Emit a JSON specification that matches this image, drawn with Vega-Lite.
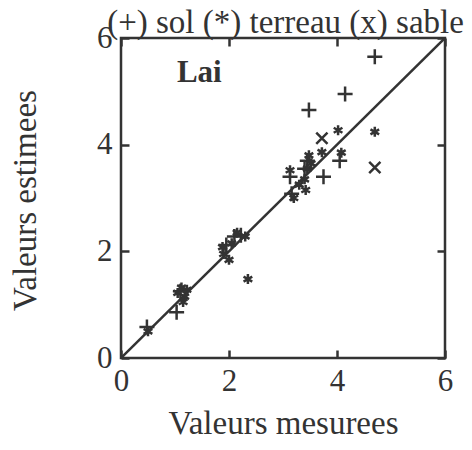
{
  "$schema": "https://vega.github.io/schema/vega-lite/v6.json",
  "width": 324,
  "height": 320,
  "autosize": {"type": "none"},
  "padding": {"left": 121, "top": 38, "right": 27, "bottom": 92},
  "background": "white",
  "config": {
    "view": {"stroke": "#333333", "strokeWidth": 2.5},
    "font": "Liberation Serif",
    "axis": {"domain": false, "grid": false, "tickColor": "#333333", "tickWidth": 2.5, "labelColor": "#333333", "titleColor": "#333333", "labelFont": "Liberation Serif", "titleFont": "Liberation Serif", "titleFontWeight": "normal", "titleLimit": 1000}
  },
  "datasets": {
    "diag": [{"x": 0, "y": 0}, {"x": 6, "y": 6}],
    "pts": [
      {"serie": "sol", "mesure": 0.48, "estime": 0.58},
      {"serie": "sol", "mesure": 1.03, "estime": 0.86},
      {"serie": "sol", "mesure": 1.10, "estime": 1.25},
      {"serie": "sol", "mesure": 1.95, "estime": 2.12},
      {"serie": "sol", "mesure": 2.10, "estime": 2.28},
      {"serie": "sol", "mesure": 2.22, "estime": 2.30},
      {"serie": "sol", "mesure": 3.13, "estime": 3.40},
      {"serie": "sol", "mesure": 3.16, "estime": 3.08},
      {"serie": "sol", "mesure": 3.40, "estime": 3.55},
      {"serie": "sol", "mesure": 3.45, "estime": 3.70},
      {"serie": "sol", "mesure": 3.75, "estime": 3.40},
      {"serie": "sol", "mesure": 4.05, "estime": 3.70},
      {"serie": "sol", "mesure": 3.48, "estime": 4.65},
      {"serie": "sol", "mesure": 4.15, "estime": 4.95},
      {"serie": "sol", "mesure": 4.70, "estime": 5.65},
      {"serie": "terreau", "mesure": 0.50, "estime": 0.50},
      {"serie": "terreau", "mesure": 1.05, "estime": 1.22},
      {"serie": "terreau", "mesure": 1.12, "estime": 1.32},
      {"serie": "terreau", "mesure": 1.18, "estime": 1.15},
      {"serie": "terreau", "mesure": 1.22, "estime": 1.28},
      {"serie": "terreau", "mesure": 1.15, "estime": 1.05},
      {"serie": "terreau", "mesure": 1.90, "estime": 1.95},
      {"serie": "terreau", "mesure": 1.88, "estime": 2.08},
      {"serie": "terreau", "mesure": 2.00, "estime": 1.84},
      {"serie": "terreau", "mesure": 2.05, "estime": 2.15},
      {"serie": "terreau", "mesure": 2.15, "estime": 2.35},
      {"serie": "terreau", "mesure": 2.30, "estime": 2.28},
      {"serie": "terreau", "mesure": 2.35, "estime": 1.48},
      {"serie": "terreau", "mesure": 3.13, "estime": 3.52},
      {"serie": "terreau", "mesure": 3.30, "estime": 3.25},
      {"serie": "terreau", "mesure": 3.40, "estime": 3.35},
      {"serie": "terreau", "mesure": 3.45, "estime": 3.55},
      {"serie": "terreau", "mesure": 3.48, "estime": 3.80},
      {"serie": "terreau", "mesure": 3.52, "estime": 3.65},
      {"serie": "terreau", "mesure": 3.42, "estime": 3.15},
      {"serie": "terreau", "mesure": 3.72, "estime": 3.86},
      {"serie": "terreau", "mesure": 4.08, "estime": 3.85},
      {"serie": "terreau", "mesure": 4.02, "estime": 4.27},
      {"serie": "terreau", "mesure": 4.70, "estime": 4.24},
      {"serie": "terreau", "mesure": 3.20, "estime": 3.00},
      {"serie": "sable", "mesure": 3.72, "estime": 4.12},
      {"serie": "sable", "mesure": 4.70, "estime": 3.57}
    ]
  },
  "resolve": {"axis": {"x": "independent", "y": "independent"}},
  "layer": [
    {
      "data": {"name": "diag"},
      "mark": {"type": "line", "color": "#333333", "strokeWidth": 2.5, "clip": true},
      "encoding": {
        "x": {"field": "x", "type": "quantitative", "scale": {"domain": [0, 6], "nice": false},
          "axis": {"orient": "bottom", "values": [0, 2, 4, 6], "tickSize": -8, "labelFontSize": 31, "labelPadding": 16, "labelFlush": false,
            "title": "Valeurs mesurees", "titleFontSize": 33, "titleX": 162, "titleY": 65, "titleBaseline": "middle", "titleAlign": "center"}},
        "y": {"field": "y", "type": "quantitative", "scale": {"domain": [0, 6], "nice": false},
          "axis": {"orient": "left", "values": [0, 2, 4, 6], "tickSize": -8, "labelFontSize": 31, "labelPadding": 17, "labelFlush": false,
            "title": "Valeurs estimees", "titleFontSize": 33, "titleX": -96, "titleY": 162, "titleAngle": -90, "titleBaseline": "middle", "titleAlign": "center"}}
      }
    },
    {
      "data": {"name": "pts"},
      "mark": {"type": "point", "filled": false, "color": "#333333", "strokeWidth": 2.5, "opacity": 1},
      "encoding": {
        "x": {"field": "mesure", "type": "quantitative",
          "axis": {"orient": "top", "values": [0, 2, 4, 6], "tickSize": -8, "labels": false,
            "title": "(+) sol (*) terreau (x) sable", "titleFontSize": 33, "titleX": 164, "titleY": -6, "titleBaseline": "alphabetic", "titleAlign": "center"}},
        "y": {"field": "estime", "type": "quantitative",
          "axis": {"orient": "right", "values": [0, 2, 4, 6], "tickSize": -8, "labels": false, "title": null}},
        "shape": {"field": "serie", "type": "nominal", "legend": null,
          "scale": {"domain": ["sol", "terreau", "sable"],
            "range": ["M-1,0L1,0M0,-1L0,1", "M0,-1L0,1M-0.87,-0.5L0.87,0.5M-0.87,0.5L0.87,-0.5", "M-0.75,-0.75L0.75,0.75M-0.75,0.75L0.75,-0.75"]}},
        "size": {"field": "serie", "type": "nominal", "legend": null,
          "scale": {"type": "ordinal", "domain": ["sol", "terreau", "sable"], "range": [225, 100, 225]}}
      }
    },
    {
      "data": {"values": [{}]},
      "mark": {"type": "text", "font": "Liberation Serif", "fontSize": 31, "fontWeight": "bold", "color": "#333333"},
      "encoding": {
        "x": {"datum": 1.45, "type": "quantitative", "axis": null},
        "y": {"datum": 5.35, "type": "quantitative", "axis": null},
        "text": {"value": "Lai"}
      }
    }
  ]
}
